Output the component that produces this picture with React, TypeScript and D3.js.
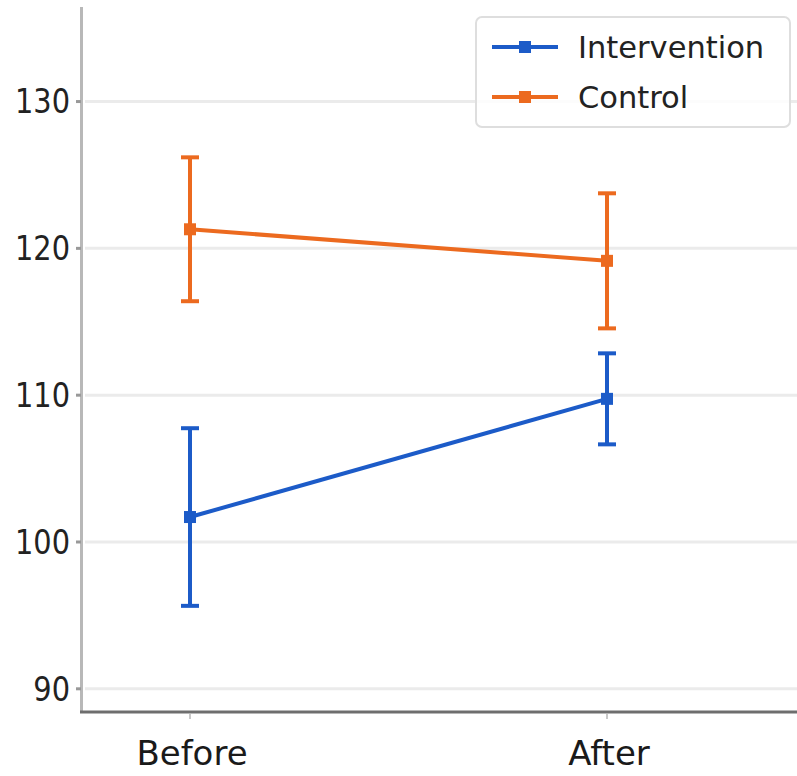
import React from "react";
import * as d3 from "d3";

const categories = ["Before", "After"];
const interventionMean = [101.7, 109.75];
const interventionErr = [6.05, 3.1];
const controlMean = [121.3, 119.15];
const controlErr = [4.9, 4.6];
const yTicks = [90, 100, 110, 120, 130];

const seriesNames = ["Intervention", "Control"];
const colors = ["#1c5bc8", "#ec6a1f"];

const width = 797;
const height = 776;

function App() {
  const x = d3.scalePoint<string>().domain(categories).range([190, 607]);
  const y = d3.scaleLinear().domain([88.42, 136.44]).range([712, 7]);

  const series = [
    { name: seriesNames[0], mean: interventionMean, err: interventionErr, color: colors[0] },
    { name: seriesNames[1], mean: controlMean, err: controlErr, color: colors[1] },
  ];

  const line = d3
    .line<number>()
    .x((_, i) => x(categories[i]) as number)
    .y((d) => y(d));

  const font = "DejaVu Sans, sans-serif";

  return (
    <svg
      width={width}
      height={height}
      style={{ position: "absolute", left: 0, top: 0, display: "block", background: "#fff" }}
    >
      {/* grid */}
      {yTicks.map((t) => (
        <line key={"g" + t} x1={85} x2={width} y1={y(t)} y2={y(t)} stroke="#ebebeb" strokeWidth={3} />
      ))}

      {/* y axis */}
      <line x1={81.5} x2={81.5} y1={7} y2={712} stroke="#b8b8b8" strokeWidth={3} />
      {yTicks.map((t) => (
        <g key={"t" + t}>
          <line x1={76} x2={81} y1={y(t)} y2={y(t)} stroke="#999" strokeWidth={3} />
          <text
            x={0}
            y={0}
            transform={`translate(70,${y(t)}) scale(1.03,1.22)`}
            textAnchor="end"
            dominantBaseline="central"
            fontFamily={font}
            fontSize={28}
            fill="#222"
          >
            {t}
          </text>
        </g>
      ))}

      {/* x axis */}
      <line x1={80} x2={width} y1={712} y2={712} stroke="#6e6e6e" strokeWidth={3} />
      {categories.map((c) => (
        <g key={"x" + c}>
          <line x1={x(c)} x2={x(c)} y1={714} y2={719} stroke="#c8c8c8" strokeWidth={2} />
          <text
            x={(x(c) as number) + 2}
            y={765}
            textAnchor="middle"
            fontFamily={font}
            fontSize={34}
            fill="#1a1a1a"
          >
            {c}
          </text>
        </g>
      ))}

      {/* series */}
      {series.map((s) => (
        <g key={s.name}>
          <path d={line(s.mean) || ""} fill="none" stroke={s.color} strokeWidth={4} />
          {s.mean.map((m, i) => {
            const cx = x(categories[i]) as number;
            const top = y(m + s.err[i]);
            const bot = y(m - s.err[i]);
            return (
              <g key={i}>
                <line x1={cx} x2={cx} y1={top} y2={bot} stroke={s.color} strokeWidth={4} />
                <line x1={cx - 9} x2={cx + 9} y1={top} y2={top} stroke={s.color} strokeWidth={4} />
                <line x1={cx - 9} x2={cx + 9} y1={bot} y2={bot} stroke={s.color} strokeWidth={4} />
                <rect x={cx - 6} y={y(m) - 6} width={12} height={12} fill={s.color} />
              </g>
            );
          })}
        </g>
      ))}

      {/* legend */}
      <rect x={476} y={17} width={314} height={110} rx={6} fill="#fff" fillOpacity={0.85} stroke="#dedede" strokeWidth={2} />
      {series.map((s, i) => {
        const ly = 47 + i * 50;
        return (
          <g key={"l" + s.name}>
            <line x1={492} x2={558} y1={ly} y2={ly} stroke={s.color} strokeWidth={4} />
            <rect x={525 - 6} y={ly - 6} width={12} height={12} fill={s.color} />
            <text
              x={578}
              y={ly}
              dominantBaseline="central"
              fontFamily={font}
              fontSize={30.5}
              fill="#222"
            >
              {s.name}
            </text>
          </g>
        );
      })}
    </svg>
  );
}

export default App;
